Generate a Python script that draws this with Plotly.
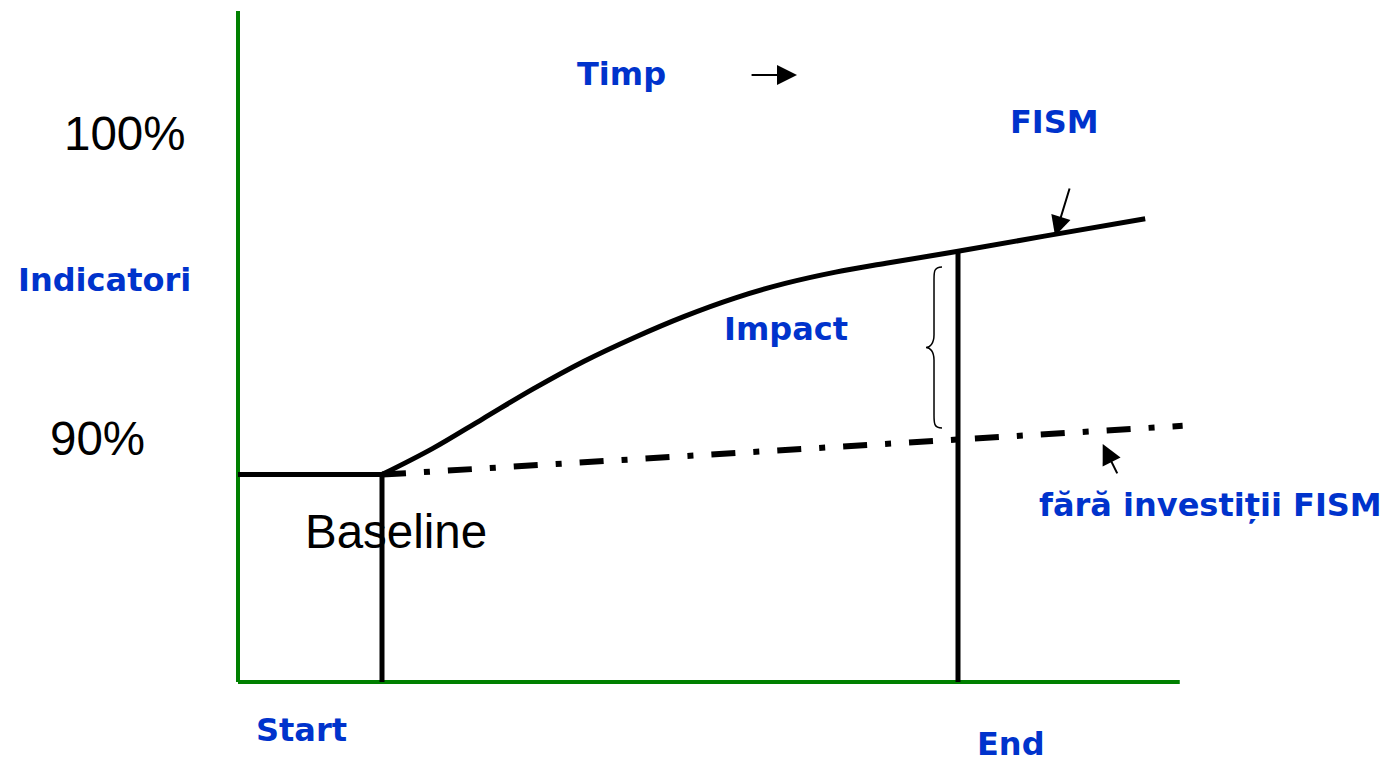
import plotly.graph_objects as go

# ---- data (time units, indicator %) ----
fism_t = [1.0, 1.35, 1.7, 2.05, 2.4, 2.75, 3.1, 3.45, 3.8, 4.15, 4.5, 5.0, 5.6, 6.3]
fism_v = [88.8, 89.65, 90.63, 91.61, 92.51, 93.29, 93.99, 94.59, 95.07, 95.44, 95.73, 96.12, 96.62, 97.19]

nofism_t = [1.0, 6.56]
nofism_v = [88.8, 90.4]

baseline_t = [0.0, 1.0]
baseline_v = [88.8, 88.8]

start_t = 0.0
base_t = 1.0
end_t = 5.0
axis_end_t = 6.54
axis_min_v = 82.0
axis_max_v = 104.0

tick_vals = [100, 90]
tick_text = ["100%", "90%"]

BLUE = "#0033CC"
GREEN = "#008000"
BLACK = "#000000"

fig = go.Figure()

# green axes
fig.add_trace(go.Scatter(x=[start_t, start_t], y=[axis_min_v, axis_max_v], mode="lines",
                         line=dict(color=GREEN, width=4), hoverinfo="skip"))
fig.add_trace(go.Scatter(x=[start_t, axis_end_t], y=[axis_min_v, axis_min_v], mode="lines",
                         line=dict(color=GREEN, width=4), hoverinfo="skip"))

# baseline horizontal and verticals
fig.add_trace(go.Scatter(x=baseline_t, y=baseline_v, mode="lines",
                         line=dict(color=BLACK, width=5), hoverinfo="skip"))
fig.add_trace(go.Scatter(x=[base_t, base_t], y=[axis_min_v, baseline_v[-1]], mode="lines",
                         line=dict(color=BLACK, width=5), hoverinfo="skip"))
fig.add_trace(go.Scatter(x=[end_t, end_t], y=[axis_min_v, fism_v[fism_t.index(end_t)]], mode="lines",
                         line=dict(color=BLACK, width=5), hoverinfo="skip"))

# without investment (dash-dot)
fig.add_trace(go.Scatter(x=nofism_t, y=nofism_v, mode="lines",
                         line=dict(color=BLACK, width=6, dash="24px,18px,6px,18px"), hoverinfo="skip"))

# FISM curve
fig.add_trace(go.Scatter(x=fism_t, y=fism_v, mode="lines",
                         line=dict(color=BLACK, width=5, shape="spline", smoothing=1.0), hoverinfo="skip"))

# brace (Impact)
bx, bt, bb = 4.889, 95.61, 90.33
dx = 0.0556
dy = 0.26
mid = (bt + bb) / 2
path = (f"M {bx},{bt} C {bx-dx},{bt} {bx-dx},{bt-dy*0.6} {bx-dx},{bt-dy*1.6} "
        f"L {bx-dx},{mid+dy*1.6} C {bx-dx},{mid+dy*0.5} {bx-2*dx*0.75},{mid} {bx-2*dx},{mid} "
        f"C {bx-2*dx*0.75},{mid} {bx-dx},{mid-dy*0.5} {bx-dx},{mid-dy*1.6} "
        f"L {bx-dx},{bb+dy*1.6} C {bx-dx},{bb+dy*0.6} {bx-dx},{bb} {bx},{bb}")
fig.add_shape(type="path", path=path, xref="x", yref="y", line=dict(color=BLACK, width=1.5))

anns = []
bold = dict(family="DejaVu Sans", size=32, color=BLUE, weight="bold")
reg = dict(family="Liberation Sans, Arial", size=47.5, color=BLACK)

def txt(x, y, s, font):
    anns.append(dict(x=x, y=y, xref="x", yref="y", text=s, showarrow=False,
                     xanchor="center", yanchor="middle", font=font))

for v, s, x in zip(tick_vals, tick_text, [-0.785, -0.979]):
    txt(x, v, s, reg)
txt(1.097, 86.92, "Baseline", reg)
txt(-0.924, 95.18, "Indicatori", bold)
txt(2.66, 101.93, "Timp", bold)
txt(5.667, 100.36, "FISM", bold)
txt(3.806, 93.57, "Impact", bold)
txt(6.75, 87.8, "fără investiții FISM", bold)
txt(0.444, 80.43, "Start", bold)
txt(5.368, 79.97, "End", bold)

def arrow(hx, hy, tx, ty):
    anns.append(dict(x=hx, y=hy, ax=tx, ay=ty, xref="x", yref="y", axref="x", ayref="y",
                     text="", showarrow=True, arrowhead=2, arrowsize=2.0, arrowwidth=2,
                     arrowcolor=BLACK, standoff=0, startstandoff=0))

arrow(3.882, 101.9, 3.556, 101.9)
arrow(5.674, 96.62, 5.778, 98.23)
arrow(6.005, 89.80, 6.111, 88.79)

fig.update_layout(
    width=1386, height=763,
    margin=dict(l=0, r=0, t=0, b=0),
    paper_bgcolor="white", plot_bgcolor="white",
    showlegend=False,
    xaxis=dict(range=[-1.6528, 7.9722], visible=False, fixedrange=True),
    yaxis=dict(range=[79.3443, 104.3607], visible=False, fixedrange=True),
    annotations=anns,
)

fig.write_html("out.html", config={"displayModeBar": False},
               post_script="document.body.style.margin='0';document.body.style.overflow='hidden';")
